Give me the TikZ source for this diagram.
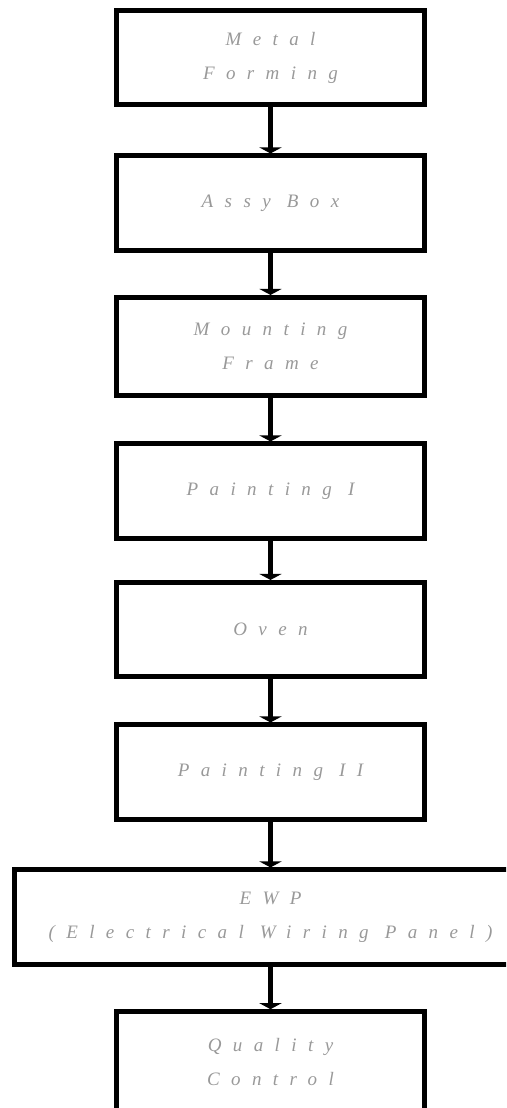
\documentclass[tikz,border=0pt]{standalone}
\usepackage{fontspec}
\newfontfamily\stagefont[LetterSpace=60]{Liberation Serif}
\usetikzlibrary{arrows.meta}
\begin{document}
\begin{tikzpicture}[x=1pt,y=-1pt,
  stage/.style={draw=black, line width=4.6pt, minimum width=308.5pt,
    minimum height=94.5pt, inner sep=0pt, align=center,
    text=black!40, font=\stagefont\itshape\fontsize{19}{34}\selectfont},
  widestage/.style={stage, minimum width=512.5pt},
  flow/.style={draw=black, line width=4.6pt, -{Triangle[width=22pt,length=6pt]}}]
  \useasboundingbox (0,0) rectangle (506,1108);
  \clip (0,0) rectangle (506,1108);
  % process chain, top to bottom
  \node[stage] (forming)  at (270.5,57.5)  {Metal\\Forming};
  \node[stage] (assy)     at (270.5,203)   {Assy Box};
  \node[stage, minimum height=98.5pt] (mounting) at (270.5,346.5) {Mounting\\Frame};
  \node[stage] (paint1)   at (270.5,491)   {Painting I};
  \node[stage] (oven)     at (270.5,629.5) {Oven};
  \node[stage] (paint2)   at (270.5,772)   {Painting II};
  \node[widestage] (ewp)  at (270.5,917)   {EWP\\(Electrical Wiring Panel)};
  \node[stage, minimum height=100pt] (qc) at (270.5,1061.5) {Quality\\Control};
  % connectors
  \draw[flow] (forming) -- (assy);
  \draw[flow] (assy) -- (mounting);
  \draw[flow] (mounting) -- (paint1);
  \draw[flow] (paint1) -- (oven);
  \draw[flow] (oven) -- (paint2);
  \draw[flow] (paint2) -- (ewp);
  \draw[flow] (ewp) -- (qc);
\end{tikzpicture}
\end{document}
